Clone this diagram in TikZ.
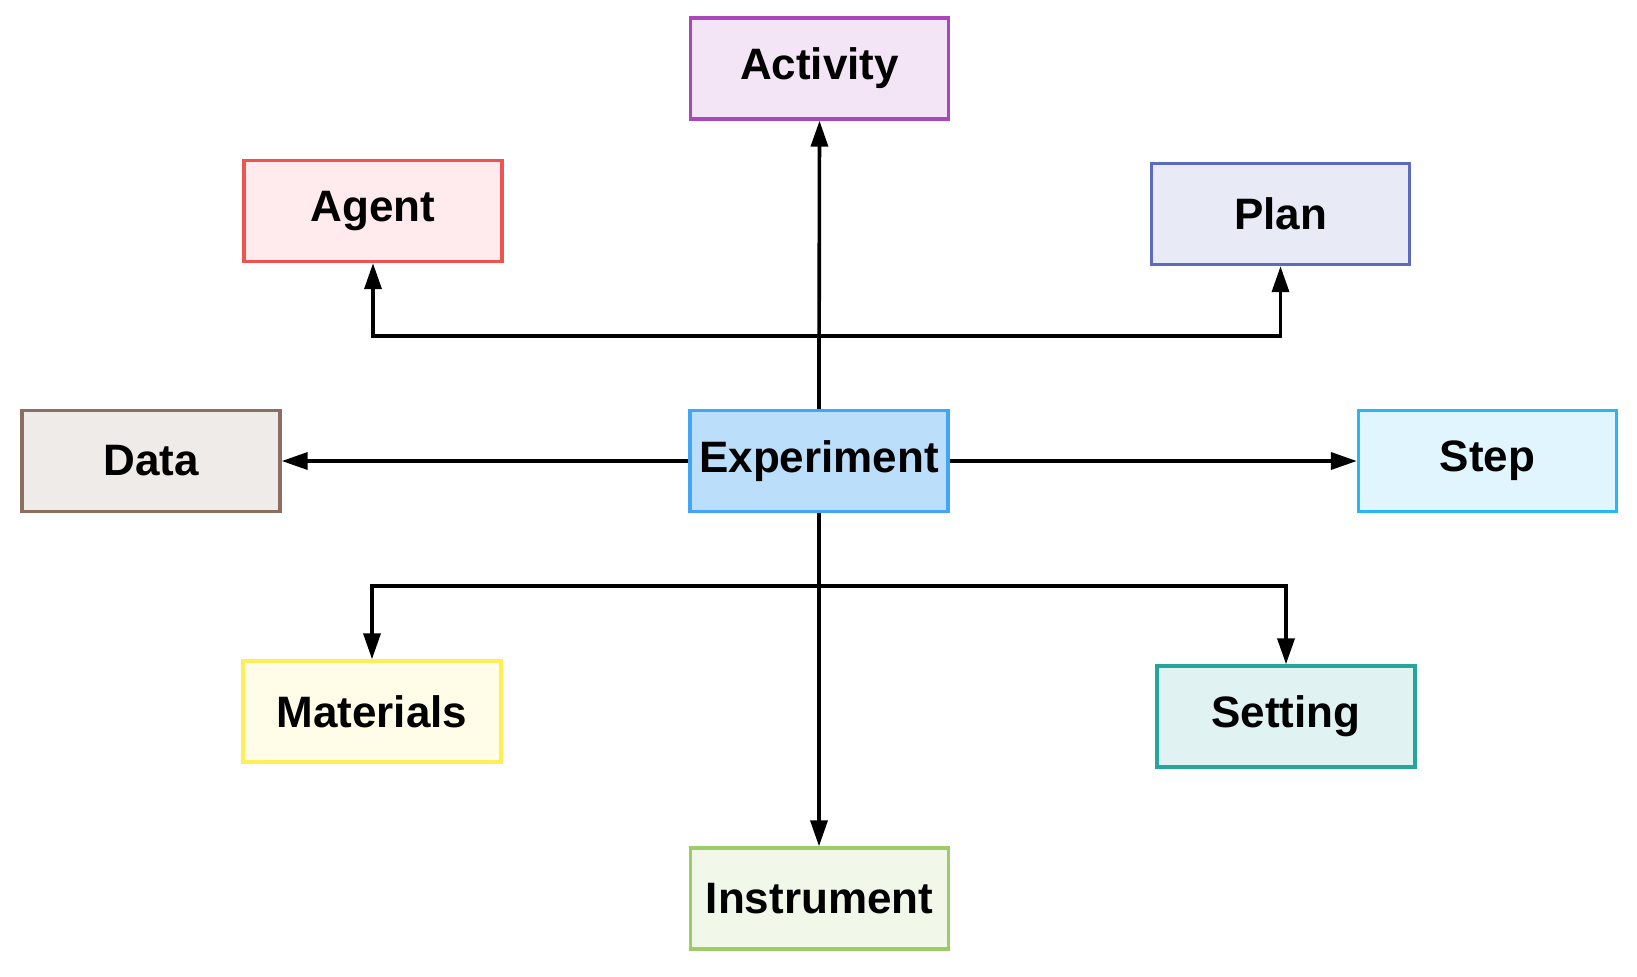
\documentclass[tikz,border=0pt]{standalone}
\usepackage{fontspec}
\setmainfont{Liberation Sans}
\usetikzlibrary{arrows.meta}
\definecolor{actB}{HTML}{AB47BC}\definecolor{actF}{HTML}{F3E5F5}
\definecolor{agtB}{HTML}{EF5350}\definecolor{agtF}{HTML}{FFEBEE}
\definecolor{plnB}{HTML}{5C6BC0}\definecolor{plnF}{HTML}{E8EAF6}
\definecolor{datB}{HTML}{8D6E63}\definecolor{datF}{HTML}{EFEBE9}
\definecolor{expB}{HTML}{42A5F5}\definecolor{expF}{HTML}{BBDEFB}
\definecolor{stpB}{HTML}{29B6F6}\definecolor{stpF}{HTML}{E1F5FE}
\definecolor{matB}{HTML}{FFEE58}\definecolor{matF}{HTML}{FFFDE7}
\definecolor{setB}{HTML}{26A69A}\definecolor{setF}{HTML}{E0F2F1}
\definecolor{insB}{HTML}{9CCC65}\definecolor{insF}{HTML}{F1F8E9}
\tikzset{
  box/.style={draw, line width=1.7pt, minimum width=129pt, minimum height=50.5pt,
    inner sep=0pt, font=\fontsize{22}{26}\selectfont\bfseries, text=black},
  conn/.style={line width=1.8pt, draw=black, -{Triangle[length=13pt,width=8.5pt]}},
  plain/.style={line width=1.8pt, draw=black}
}
\begin{document}
\begin{tikzpicture}[x=0.5pt,y=-0.5pt]
\useasboundingbox (0,0) rectangle (1637,976);
\node[box, draw=actB, fill=actF] (act) at (819.5,68.5) {Activity};
\node[box, draw=agtB, fill=agtF] (agt) at (373,211) {Agent};
\node[box, draw=plnB, fill=plnF] (pln) at (1280.5,214) {Plan};
\node[box, draw=datB, fill=datF] (dat) at (151,461) {Data};
\node[box, draw=expB, fill=expF] (exp) at (819,461) {Experiment};
\node[box, draw=stpB, fill=stpF] (stp) at (1487.5,461) {Step};
\node[box, draw=matB, fill=matF] (mat) at (372,711.5) {Materials};
\node[box, draw=setB, fill=setF] (set) at (1286,716.5) {Setting};
\node[box, draw=insB, fill=insF] (ins) at (819.5,898.5) {Instrument};
\coordinate (tj) at (819,336);
\coordinate (bj) at (819,586);
% top
\draw[conn] (exp.north) -- (act.south);
\draw[plain] (exp.north) -- (tj);
\draw[conn] (tj) -| (agt.south);
\draw[conn] (tj) -| (pln.south);
% sides
\draw[conn] (exp.west) -- (dat.east);
\draw[conn] (exp.east) -- (stp.west);
% bottom
\draw[conn] (exp.south) -- (exp.south |- ins.north);
\draw[conn] (bj) -| (mat.north);
\draw[conn] (bj) -| (set.north);
\end{tikzpicture}
\end{document}
